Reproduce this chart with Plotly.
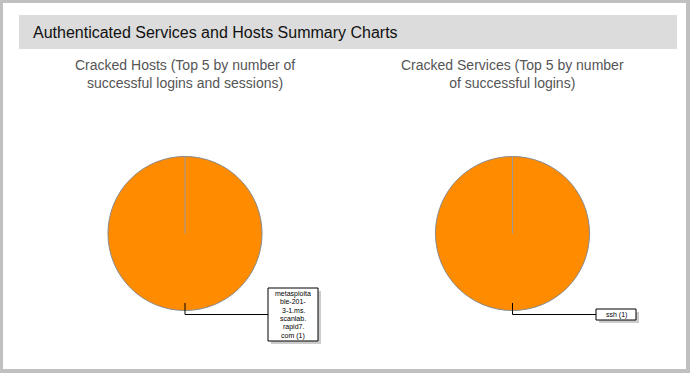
import plotly.graph_objects as go

W, H = 690, 373

# ---- data ----
host_labels = ["metasploitable-2013-1.ms.scanlab.rapid7.com"]
host_values = [1]
service_labels = ["ssh"]
service_values = [1]

page_title = "Authenticated Services and Hosts Summary Charts"
host_title = "Cracked Hosts (Top 5 by number of<br>successful logins and sessions)"
service_title = "Cracked Services (Top 5 by number<br>of successful logins)"
host_label_lines = ["metasploita", "ble-201-", "3-1.ms.", "scanlab.", "rapid7.", "com (1)"]
service_label_lines = ["ssh (1)"]

ORANGE = "#FF8C00"


def px(x):
    return x / W


def py(y):
    return 1 - y / H


def dom(cx, cy, r):
    return dict(x=[px(cx - r), px(cx + r)], y=[py(cy + r), py(cy - r)])


C1 = (185, 233.5)
C2 = (512.5, 233.5)
R = 77

fig = go.Figure()
fig.add_trace(go.Pie(labels=host_labels, values=host_values, domain=dom(*C1, R),
                     marker=dict(colors=[ORANGE], line=dict(color="#8a8a8a", width=1)),
                     textinfo="none", hoverinfo="label+value", sort=False,
                     direction="clockwise", showlegend=False))
fig.add_trace(go.Pie(labels=service_labels, values=service_values, domain=dom(*C2, R),
                     marker=dict(colors=[ORANGE], line=dict(color="#8a8a8a", width=1)),
                     textinfo="none", hoverinfo="label+value", sort=False,
                     direction="clockwise", showlegend=False))

shapes = []
# outer white panel
shapes.append(dict(type="rect", xref="paper", yref="paper", x0=px(3), x1=px(686), y0=py(369), y1=py(3),
                   fillcolor="white", line=dict(width=0), layer="below"))
# header bar
shapes.append(dict(type="rect", xref="paper", yref="paper", x0=px(19), x1=px(677), y0=py(49), y1=py(15),
                   fillcolor="#dcdcdc", line=dict(width=0), layer="below"))
# radial separator lines
for cx, cy in (C1, C2):
    shapes.append(dict(type="line", xref="paper", yref="paper", x0=px(cx), x1=px(cx),
                       y0=py(cy), y1=py(cy - R), line=dict(color="#9a9a9a", width=1)))

annotations = [
    dict(text=page_title, x=px(31), y=py(32), xref="paper", yref="paper", xanchor="left", yanchor="middle",
         showarrow=False, font=dict(family="Liberation Sans", size=16, color="#111")),
    dict(text=host_title, x=px(185), y=py(74), xref="paper", yref="paper", xanchor="center", yanchor="middle",
         showarrow=False, font=dict(family="Liberation Sans", size=14, color="#555")),
    dict(text=service_title, x=px(512), y=py(74), xref="paper", yref="paper", xanchor="center", yanchor="middle",
         showarrow=False, font=dict(family="Liberation Sans", size=14, color="#555")),
]

# label boxes (shadow + box), leader lines and label text
boxes = [
    (C1, (268, 288, 318, 341), host_label_lines),
    (C2, (596, 309, 636, 320), service_label_lines),
]
LINE_H = 8.4
for (cx, cy), (bx0, by0, bx1, by1), lines in boxes:
    ymid = (by0 + by1) / 2
    shapes.append(dict(type="path", xref="paper", yref="paper",
                       path=f"M {px(cx)} {py(303)} L {px(cx)} {py(ymid)} L {px(bx0)} {py(ymid)}",
                       line=dict(color="black", width=1)))
    shapes.append(dict(type="rect", xref="paper", yref="paper", x0=px(bx0 + 3), x1=px(bx1 + 3),
                       y0=py(by1 + 3), y1=py(by0 + 3), fillcolor="#cccccc", line=dict(width=0)))
    shapes.append(dict(type="rect", xref="paper", yref="paper", x0=px(bx0), x1=px(bx1),
                       y0=py(by1), y1=py(by0), fillcolor="white", line=dict(color="black", width=1)))
    n = len(lines)
    for i, ln in enumerate(lines):
        yc = ymid + (i - (n - 1) / 2) * LINE_H
        annotations.append(dict(text=ln, x=px((bx0 + bx1) / 2), y=py(yc), xref="paper", yref="paper",
                                xanchor="center", yanchor="middle", showarrow=False,
                                font=dict(family="Liberation Sans", size=7, color="#000")))

fig.update_layout(width=W, height=H, margin=dict(l=0, r=0, t=0, b=0),
                  paper_bgcolor="#c0c0c0", plot_bgcolor="white",
                  shapes=shapes, annotations=annotations)

fig.write_html("out.html", config={"displayModeBar": False},
               post_script="document.body.style.margin='0px';document.body.style.overflow='hidden';")
